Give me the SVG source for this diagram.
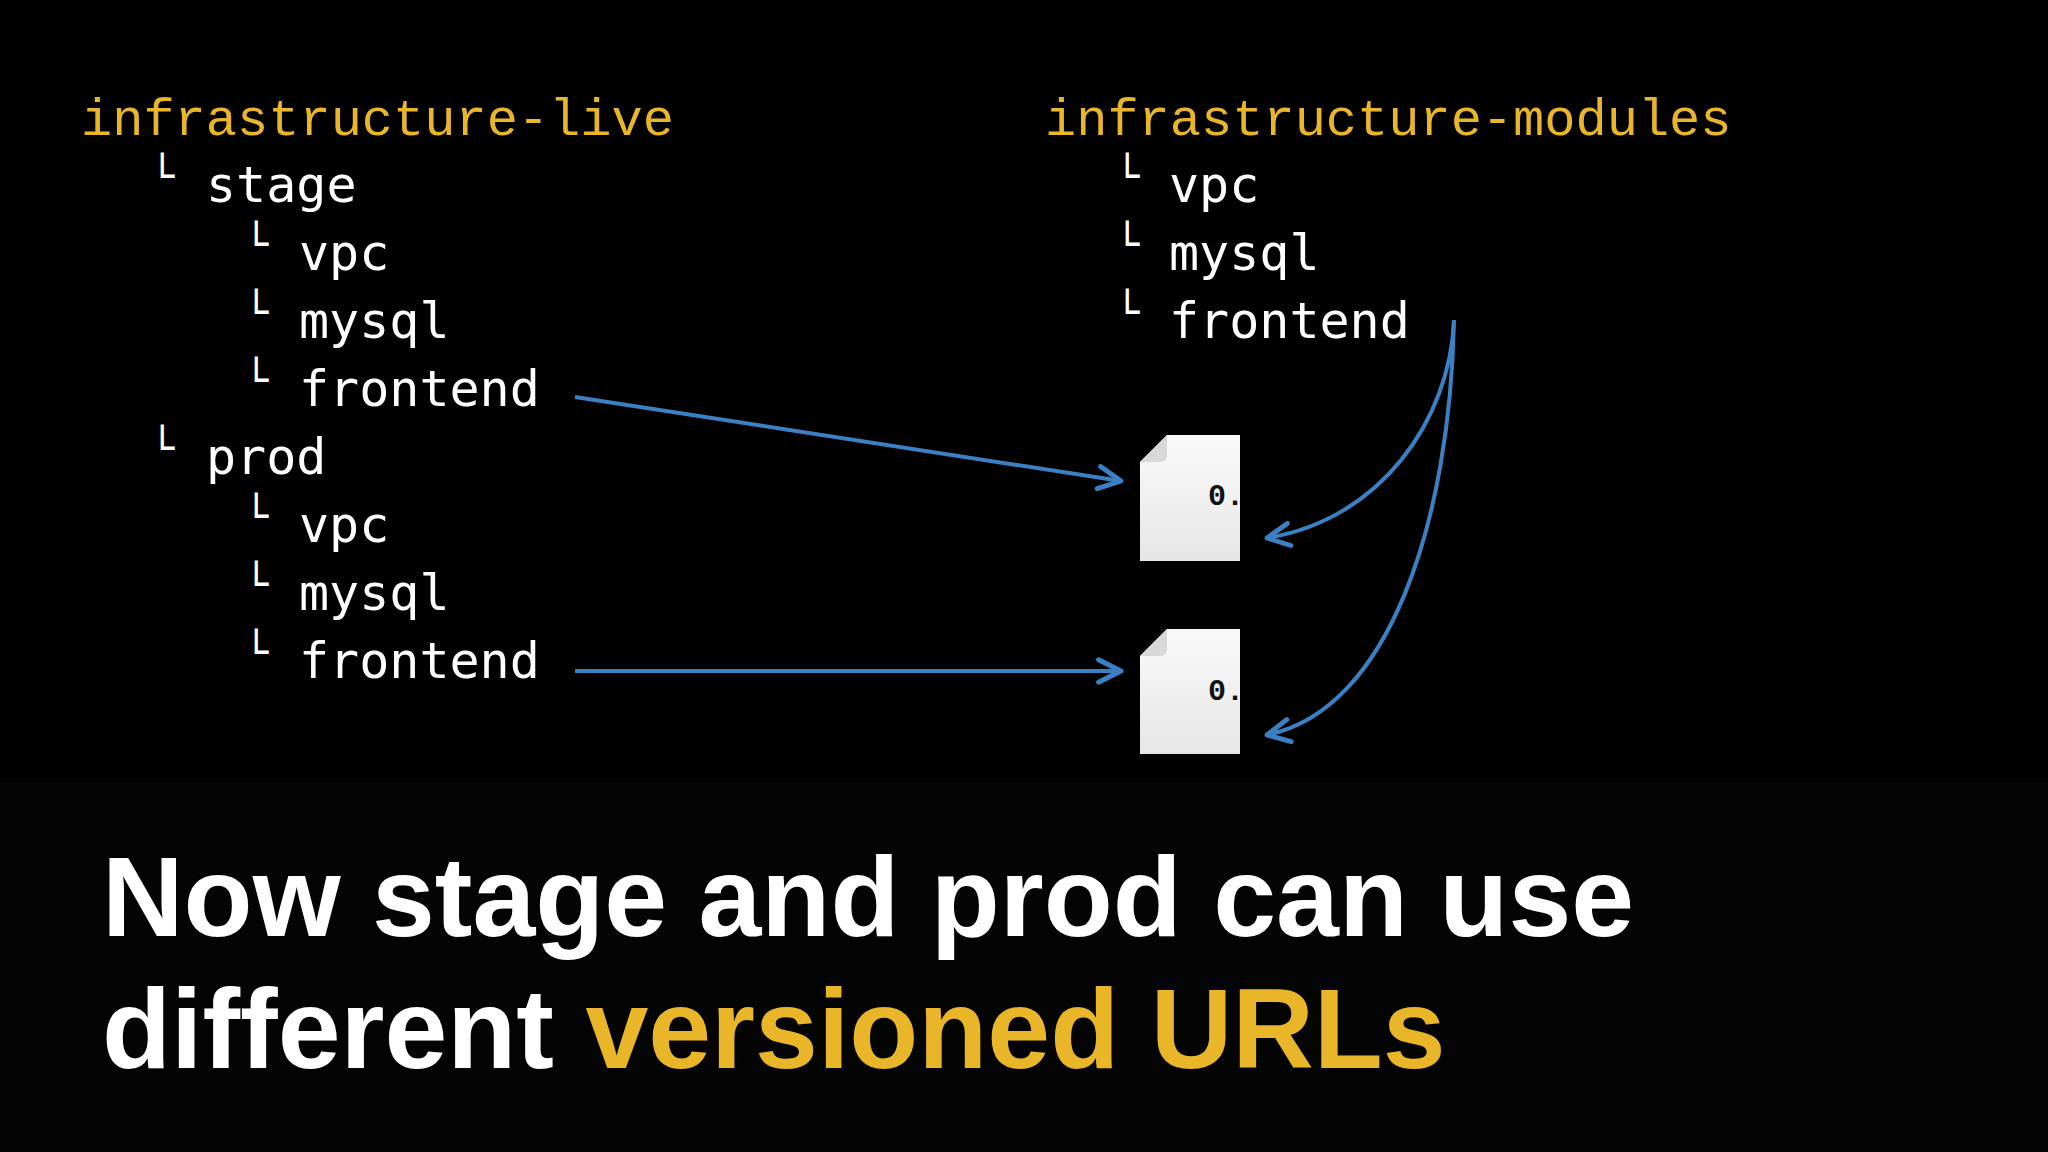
<svg xmlns="http://www.w3.org/2000/svg" width="2048" height="1152" viewBox="0 0 2048 1152">
<defs>
<style>
.h{font-family:"Liberation Mono","DejaVu Sans Mono",monospace;font-size:52px;fill:#e9b62a}
.t{font-family:"DejaVu Sans Mono","Liberation Mono",monospace;font-size:50px;fill:#fff}
.c{font-family:"DejaVu Sans Mono",monospace;font-size:40px;fill:#fff}
.cap{font-family:"Liberation Sans",Arial,sans-serif;font-weight:bold;font-size:113px;fill:#fff}
.con{fill:none;stroke:#3b80c2;stroke-width:4;marker-end:url(#a)}
.v{font-family:"Liberation Mono",monospace;font-size:30px;font-weight:bold;fill:#111}
</style>
<marker id="a" viewBox="0 0 20 20" refX="18" refY="10" markerWidth="7" markerHeight="7" orient="auto" markerUnits="strokeWidth">
<path d="M2,2 L18,10 L2,18" fill="none" stroke="#3b80c2" stroke-width="3.5" stroke-linecap="round" stroke-linejoin="round"/>
</marker>
<linearGradient id="g" x1="0" y1="0" x2="0" y2="1"><stop offset="0" stop-color="#fafafa"/><stop offset="1" stop-color="#e6e6e6"/></linearGradient>
<clipPath id="cl"><rect x="1140" y="430" width="100" height="330"/></clipPath>
</defs>
<rect width="2048" height="1152" fill="#000"/>
<rect y="777" width="2048" height="375" fill="#040404"/>
<g id="live">
<text class="h" x="81" y="135">infrastructure-live</text>
<text class="c" x="150" y="190">└</text><text class="t" x="206" y="202">stage</text>
<text class="c" x="244" y="258">└</text><text class="t" x="299" y="270">vpc</text>
<text class="c" x="244" y="326">└</text><text class="t" x="299" y="338">mysql</text>
<text class="c" x="244" y="394">└</text><text class="t" x="299" y="406">frontend</text>
<text class="c" x="150" y="462">└</text><text class="t" x="206" y="474">prod</text>
<text class="c" x="244" y="530">└</text><text class="t" x="299" y="542">vpc</text>
<text class="c" x="244" y="598">└</text><text class="t" x="299" y="610">mysql</text>
<text class="c" x="244" y="666">└</text><text class="t" x="299" y="678">frontend</text>
</g>
<g id="modules">
<text class="h" x="1045" y="135">infrastructure-modules</text>
<text class="c" x="1115" y="190">└</text><text class="t" x="1169" y="202">vpc</text>
<text class="c" x="1115" y="258">└</text><text class="t" x="1169" y="270">mysql</text>
<text class="c" x="1115" y="326">└</text><text class="t" x="1169" y="338">frontend</text>
</g>
<g id="file1" clip-path="url(#cl)">
<path d="M1167,435 H1240 V561 H1140 V462 Z" fill="url(#g)"/>
<path d="M1167,435 L1140,462 H1160 Q1167,462 1167,455 Z" fill="#d8d8d8"/>
<text class="v" x="1208" y="505">0.</text>
</g>
<g id="file2" clip-path="url(#cl)">
<path d="M1167,629 H1240 V754 H1140 V656 Z" fill="url(#g)"/>
<path d="M1167,629 L1140,656 H1160 Q1167,656 1167,649 Z" fill="#d8d8d8"/>
<text class="v" x="1208" y="700">0.</text>
</g>
<g id="connectors">
<path class="con" d="M575,397 L1121,481"/>
<path class="con" d="M575,671 L1121,671"/>
<path class="con" d="M1454,320 C1450,420 1380,520 1267,538"/>
<path class="con" d="M1454,320 C1450,520 1390,710 1267,735"/>
</g>
<g id="caption">
<text class="cap" x="102" y="936">Now stage and prod can use</text>
<text class="cap" x="102" y="1068">different <tspan fill="#e9b62a">versioned URLs</tspan></text>
</g>
</svg>
